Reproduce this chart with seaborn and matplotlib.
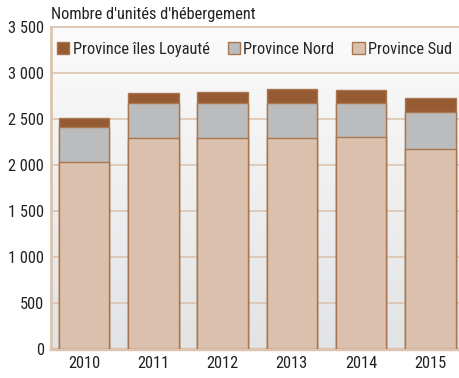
import numpy as np
import pandas as pd
import matplotlib
matplotlib.use("Agg")
import matplotlib.pyplot as plt
import seaborn as sns
from matplotlib.patches import Patch
from matplotlib.ticker import FuncFormatter

years = ["2010", "2011", "2012", "2013", "2014", "2015"]
sud = [2030, 2288, 2296, 2292, 2299, 2172]
nord = [378, 386, 381, 385, 378, 407]
iles = [106, 105, 113, 145, 134, 145]

series_names = ["Province îles Loyauté", "Province Nord", "Province Sud"]
colors = {"Province îles Loyauté": "#965b32",
          "Province Nord": "#bbbcbe",
          "Province Sud": "#dbc1ad"}
edge = "#a8764f"
grid_col = "#dcc4b0"
fs = 11.8

sns.set_theme(style="white")
plt.rcParams["font.family"] = ["Roboto Condensed", "DejaVu Sans"]

df = pd.DataFrame({"annee": years, "sud": sud, "nord": nord, "iles": iles})
df["cum_nord"] = df["sud"] + df["nord"]
df["cum_total"] = df["cum_nord"] + df["iles"]

fig = plt.figure(figsize=(4.6, 3.78), dpi=100)
ax = fig.add_axes([0.111, 0.077, 0.889, 0.852])

# vertical gradient background of the plot area
grad = np.linspace(0, 1, 256).reshape(-1, 1, 1)
top_c = np.array([0.985, 0.985, 0.985])
bot_c = np.array([0.886, 0.890, 0.898])
img = top_c + (bot_c - top_c) * grad
ax.imshow(img, extent=[0, 1, 0, 1], transform=ax.transAxes,
          aspect="auto", zorder=0, origin="upper")

# stacked bars, drawn as cumulative heights from the top layer down
for col, name in [("cum_total", "Province îles Loyauté"),
                  ("cum_nord", "Province Nord"),
                  ("sud", "Province Sud")]:
    sns.barplot(data=df, x="annee", y=col, color=colors[name], width=0.73,
                edgecolor=edge, linewidth=1.0, saturation=1, ax=ax, zorder=3)

ax.set_xlim(-0.477, 5.43)
ax.set_ylim(0, 3500)
ax.set_yticks(np.arange(0, 3501, 500))
ax.yaxis.set_major_formatter(FuncFormatter(lambda v, p: f"{int(v):,}".replace(",", " ")))
ax.grid(axis="y", color=grid_col, linewidth=1.2, zorder=1)
ax.set_axisbelow(True)
ax.tick_params(axis="both", length=0, labelsize=fs, colors="#222222", pad=5)
ax.set_xlabel("")
ax.set_ylabel("")

ax.spines["right"].set_visible(False)
ax.spines["left"].set_color(grid_col)
ax.spines["left"].set_linewidth(2)
ax.spines["bottom"].set_color(grid_col)
ax.spines["bottom"].set_linewidth(2.5)
ax.spines["top"].set_color(grid_col)
ax.spines["top"].set_linewidth(1.2)

handles = [Patch(facecolor=colors[n], edgecolor=edge, linewidth=1.0, label=n)
           for n in series_names]
ax.legend(handles=handles, loc="center left", bbox_to_anchor=(0.0147, 0.929),
          ncol=3, frameon=False, fontsize=fs, handlelength=0.75,
          handleheight=0.75, handletextpad=0.2, columnspacing=1.1,
          borderaxespad=0, borderpad=0)

fig.text(0.111, 0.962, "Nombre d'unités d'hébergement", fontsize=fs,
         color="#222222", ha="left", va="center")

fig.savefig("out.png", dpi=100)
